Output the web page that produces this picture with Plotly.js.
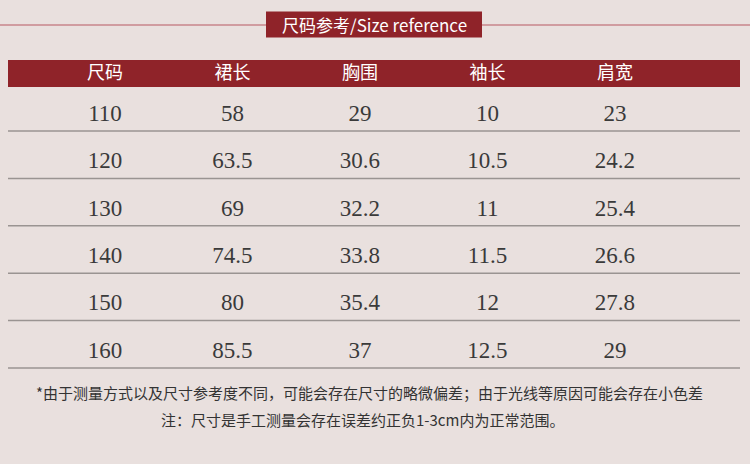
<!DOCTYPE html>
<html><head><meta charset="utf-8">
<script src="https://cdn.plot.ly/plotly-3.0.1.min.js"></script>
<style>html,body{margin:0;padding:0;background:#e9e0de;}</style>
</head><body>
<div id="chart" style="width:750px;height:464px;"></div>
<script>
const headers = ['尺码', '裙长', '胸围', '袖长', '肩宽'];
const sizes = ['110', '120', '130', '140', '150', '160'];
const skirtLength = [58, 63.5, 69, 74.5, 80, 85.5];
const chest = [29, 30.6, 32.2, 33.8, 35.4, 37];
const sleeve = [10, 10.5, 11, 11.5, 12, 12.5];
const shoulder = [23, 24.2, 25.4, 26.6, 27.8, 29];
const titleText = '尺码参考/Size reference';
const note1 = '*由于测量方式以及尺寸参考度不同，可能会存在尺寸的略微偏差；由于光线等原因可能会存在小色差';
const note2 = '注：尺寸是手工测量会存在误差约正负1-3cm内为正常范围。';

const columns = [sizes, skirtLength, chest, sleeve, shoulder];
const rowIdx = sizes.map((_, i) => i);
const RED = '#8f2329';
const headerY = -0.844;

const traces = [];
// header texts
traces.push({
  type: 'scatter', mode: 'text',
  x: headers, y: headers.map(() => headerY),
  text: headers,
  textfont: {family: 'Noto Sans CJK SC', size: 18, color: '#ffffff'},
  textposition: 'middle center', hoverinfo: 'skip', showlegend: false
});
// data columns
columns.forEach((col, c) => {
  traces.push({
    type: 'scatter', mode: 'text',
    x: col.map(() => headers[c]), y: rowIdx,
    text: col.map(v => String(v)),
    textfont: {family: 'Liberation Serif', size: 23, color: '#3a3a3a'},
    textposition: 'middle center', hoverinfo: 'skip', showlegend: false
  });
});

const shapes = [];
// thin decorative line behind title
shapes.push({type: 'line', xref: 'paper', yref: 'paper', x0: 0, x1: 1, y0: 1 - 25/464, y1: 1 - 25/464,
  line: {color: '#c7868b', width: 1.5}, layer: 'below'});
// title box
shapes.push({type: 'rect', xref: 'paper', yref: 'paper', x0: 266/750, x1: 482/750, y0: 1 - 37.5/464, y1: 1 - 11.5/464,
  fillcolor: RED, line: {width: 0}, layer: 'below'});
// header bar
shapes.push({type: 'rect', xref: 'paper', yref: 'y', x0: 8/750, x1: 740/750, y0: -1.160, y1: -0.591,
  fillcolor: RED, line: {width: 0}, layer: 'below'});
// row separator lines
rowIdx.forEach(i => {
  shapes.push({type: 'line', xref: 'paper', yref: 'y', x0: 8/750, x1: 740/750, y0: i + 0.338, y1: i + 0.338,
    line: {color: '#9a9492', width: 1.5}, layer: 'below'});
});

const layout = {
  width: 750, height: 464,
  margin: {l: 0, r: 0, t: 0, b: 0},
  paper_bgcolor: '#e9e0de', plot_bgcolor: '#e9e0de',
  xaxis: {type: 'category', categoryorder: 'array', categoryarray: headers,
    range: [-0.8235, 5.059], visible: false, fixedrange: true},
  yaxis: {range: [7.363, -2.426], visible: false, fixedrange: true},
  shapes: shapes,
  showlegend: false,
  annotations: [
    {xref: 'paper', yref: 'paper', x: 374/750, y: 1 - 24.5/464, text: titleText, showarrow: false,
      xanchor: 'center', yanchor: 'middle',
      font: {family: 'Noto Sans CJK SC', size: 17, color: '#ffffff'}},
    {xref: 'paper', yref: 'paper', x: 369/750, y: 1 - 392/464, text: note1, showarrow: false,
      xanchor: 'center', yanchor: 'middle',
      font: {family: 'Noto Sans CJK SC', size: 15, color: '#333333'}},
    {xref: 'paper', yref: 'paper', x: 362/750, y: 1 - 419/464, text: note2, showarrow: false,
      xanchor: 'center', yanchor: 'middle',
      font: {family: 'Noto Sans CJK SC', size: 15, color: '#333333'}}
  ]
};

Plotly.newPlot('chart', traces, layout, {staticPlot: true, displayModeBar: false});
</script>
</body></html>
